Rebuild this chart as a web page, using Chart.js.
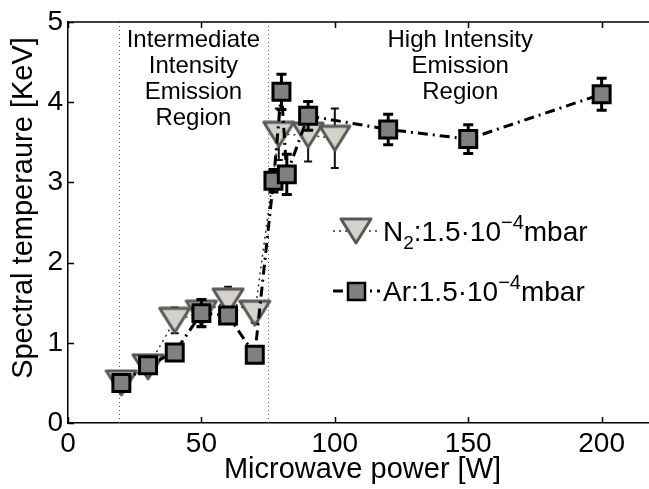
<!DOCTYPE html>
<html>
<head>
<meta charset="utf-8">
<script src="https://cdn.jsdelivr.net/npm/chart.js@4"></script>
<style>
html, body { margin: 0; padding: 0; background: #fff; overflow: hidden; }
</style>
</head>
<body>
<canvas id="power-chart" width="670" height="489"></canvas>
<script>
// N2 runs
var powerN2 = [20, 30, 40, 50, 60, 70, 79, 90, 100]
var tempN2 = [0.5, 0.7, 1.28, 1.37, 1.52, 1.37, 3.6, 3.59, 3.55]
var errN2 = [0.06, 0.06, 0.16, 0.16, 0.18, 0.12, 0.32, 0.33, 0.37]

// Ar runs
var powerAr = [20, 30, 40, 50, 60, 70, 77, 80, 82, 90, 120, 150, 200]
var tempAr = [0.5, 0.72, 0.88, 1.37, 1.34, 0.85, 3.02, 4.13, 3.1, 3.83, 3.66, 3.54, 4.1]
var errAr = [0.04, 0.04, 0.04, 0.17, 0.1, 0.08, 0.14, 0.22, 0.25, 0.18, 0.19, 0.18, 0.2]

var xTicks = [0, 50, 100, 150, 200]
var yTicks = [0, 1, 2, 3, 4, 5]
var regionBounds = [19, 75]
var regionLabels = [
	{ x: 47, lines: ['Intermediate', 'Intensity', 'Emission', 'Region'] },
	{ x: 147, lines: ['High Intensity', 'Emission', 'Region'] }
]

var FONT = "'Liberation Sans', Arial, Helvetica, sans-serif"
Chart.defaults.font.family = FONT
Chart.defaults.color = '#000'

// downward triangle marker, centred on its bounding box
function triangleMarker(w, h) {
	var c = document.createElement('canvas')
	c.width = w + 4
	c.height = h + 4
	var g = c.getContext('2d')
	g.beginPath()
	g.moveTo(2, 2)
	g.lineTo(w + 2, 2)
	g.lineTo(w / 2 + 2, h + 2)
	g.closePath()
	g.fillStyle = '#d5d2cb'
	g.fill()
	g.lineWidth = 3
	g.lineJoin = 'round'
	g.strokeStyle = '#585858'
	g.stroke()
	return c
}
var triangle = triangleMarker(30, 24)

function toPoints(xs, ys) {
	return xs.map(function (x, i) { return { x: x, y: ys[i] } })
}

var errors = [errN2, errAr]
var errStyle = [
	{ color: '#111', width: 2, cap: 4 },
	{ color: '#000', width: 3, cap: 5 }
]

var errorBars = {
	id: 'errorBars',
	beforeDatasetDraw: function (chart, args) {
		var i = args.index
		var ctx = chart.ctx
		var xs = chart.scales.x, ys = chart.scales.y
		var st = errStyle[i]
		var data = chart.data.datasets[i].data
		ctx.save()
		ctx.strokeStyle = st.color
		ctx.lineWidth = st.width
		data.forEach(function (p, k) {
			var px = xs.getPixelForValue(p.x)
			var top = ys.getPixelForValue(p.y + errors[i][k])
			var bot = ys.getPixelForValue(p.y - errors[i][k])
			ctx.beginPath()
			ctx.moveTo(px, top)
			ctx.lineTo(px, bot)
			ctx.moveTo(px - st.cap, top)
			ctx.lineTo(px + st.cap, top)
			ctx.moveTo(px - st.cap, bot)
			ctx.lineTo(px + st.cap, bot)
			ctx.stroke()
		})
		ctx.restore()
	}
}

function richText(ctx, x, y, parts) {
	parts.forEach(function (p) {
		ctx.font = p.size + 'px ' + FONT
		ctx.fillText(p.t, x, y + (p.dy || 0))
		x += ctx.measureText(p.t).width
	})
}

var decorations = {
	id: 'decorations',
	beforeDatasetsDraw: function (chart) {
		var ctx = chart.ctx
		var a = chart.chartArea
		var xs = chart.scales.x
		ctx.save()
		// region boundaries
		ctx.strokeStyle = '#555'
		ctx.lineWidth = 1
		ctx.setLineDash([1, 3])
		regionBounds.forEach(function (v) {
			var px = Math.round(xs.getPixelForValue(v)) + 0.5
			ctx.beginPath()
			ctx.moveTo(px, a.bottom)
			ctx.lineTo(px, a.top)
			ctx.stroke()
		})
		ctx.setLineDash([])
		// region captions
		ctx.fillStyle = '#000'
		ctx.font = '24px ' + FONT
		ctx.textAlign = 'center'
		ctx.textBaseline = 'alphabetic'
		regionLabels.forEach(function (r) {
			var px = xs.getPixelForValue(r.x)
			r.lines.forEach(function (l, k) {
				ctx.fillText(l, px, a.top + 25 + k * 26)
			})
		})
		ctx.restore()
	},
	afterDraw: function (chart) {
		var ctx = chart.ctx
		var a = chart.chartArea
		var xs = chart.scales.x, ys = chart.scales.y
		ctx.save()
		ctx.strokeStyle = '#000'
		ctx.lineWidth = 1.5
		ctx.beginPath()
		ctx.moveTo(a.left, a.top)
		ctx.lineTo(a.right, a.top)
		ctx.lineTo(a.right, a.bottom)
		xTicks.forEach(function (v) {
			var px = Math.round(xs.getPixelForValue(v)) + 0.5
			ctx.moveTo(px, a.bottom)
			ctx.lineTo(px, a.bottom - 6)
			ctx.moveTo(px, a.top)
			ctx.lineTo(px, a.top + 6)
		})
		yTicks.forEach(function (v) {
			var py = Math.round(ys.getPixelForValue(v)) + 0.5
			ctx.moveTo(a.left, py)
			ctx.lineTo(a.left + 6, py)
			ctx.moveTo(a.right, py)
			ctx.lineTo(a.right - 6, py)
		})
		ctx.stroke()

		// axis titles
		ctx.fillStyle = '#000'
		ctx.font = '29px ' + FONT
		ctx.textAlign = 'center'
		ctx.textBaseline = 'middle'
		ctx.fillText('Microwave power [W]', (a.left + a.right) / 2 + 1, 470)
		ctx.save()
		ctx.translate(24, 208)
		ctx.rotate(-Math.PI / 2)
		ctx.fillText('Spectral temperaure [KeV]', 0, 0)
		ctx.restore()

		// legend
		ctx.textAlign = 'left'
		ctx.textBaseline = 'alphabetic'
		var rows = [
			{ y: 231, ds: 0, name: [{ t: 'N', size: 28 }, { t: '2', size: 19, dy: 8 }] },
			{ y: 291, ds: 1, name: [{ t: 'Ar', size: 28 }] }
		]
		rows.forEach(function (r) {
			var d = chart.data.datasets[r.ds]
			ctx.strokeStyle = d.borderColor
			ctx.lineWidth = d.borderWidth
			ctx.setLineDash(d.borderDash)
			ctx.beginPath()
			ctx.moveTo(333, r.y)
			ctx.lineTo(380, r.y)
			ctx.stroke()
			ctx.setLineDash([])
			if (r.ds === 0) {
				ctx.drawImage(triangle, 356 - triangle.width / 2, r.y - triangle.height / 2)
			} else {
				ctx.fillStyle = '#808080'
				ctx.fillRect(348, r.y - 8, 17, 17)
				ctx.lineWidth = 2.5
				ctx.strokeStyle = '#000'
				ctx.strokeRect(348, r.y - 8, 17, 17)
			}
			ctx.fillStyle = '#000'
			richText(ctx, 383, r.y + 10, r.name.concat([
				{ t: ':1.5\u00b710', size: 28 },
				{ t: '\u22124', size: 20, dy: -12 },
				{ t: 'mbar', size: 28 }
			]))
		})
		ctx.restore()
	}
}

var ctx = document.getElementById('power-chart').getContext('2d')
var chart = new Chart(ctx, {
	type: 'scatter',
	data: {
		datasets: [{
			label: 'N2',
			data: toPoints(powerN2, tempN2),
			showLine: true,
			borderColor: '#333',
			borderWidth: 1.5,
			borderDash: [2, 4],
			pointStyle: triangle,
			order: 1
		}, {
			label: 'Ar',
			data: toPoints(powerAr, tempAr),
			showLine: true,
			borderColor: '#000',
			borderWidth: 3,
			borderDash: [10, 5, 2, 5],
			pointStyle: 'rect',
			pointRadius: 12,
			pointBackgroundColor: '#808080',
			pointBorderColor: '#000',
			pointBorderWidth: 3,
			order: 0
		}]
	},
	options: {
		responsive: false,
		animation: false,
		devicePixelRatio: 1,
		layout: { padding: { top: 22, right: 0, left: 0, bottom: 0 } },
		plugins: { legend: { display: false }, tooltip: { enabled: false } },
		scales: {
			x: {
				type: 'linear',
				min: 0,
				max: 220,
				afterFit: function (s) {
					s.height = 66
					s.paddingLeft = 0
					s.paddingRight = 0
				},
				afterBuildTicks: function (s) { s.ticks = xTicks.map(function (v) { return { value: v } }) },
				ticks: { font: { size: 28 }, padding: 4, maxRotation: 0 },
				grid: { display: false, drawTicks: false },
				border: { display: true, color: '#000', width: 1.5 }
			},
			y: {
				min: 0,
				max: 5,
				afterFit: function (s) {
					s.width = 68
					s.paddingTop = 0
					s.paddingBottom = 0
				},
				afterBuildTicks: function (s) { s.ticks = yTicks.map(function (v) { return { value: v } }) },
				ticks: { font: { size: 28 }, padding: 5 },
				grid: { display: false, drawTicks: false },
				border: { display: true, color: '#000', width: 1.5 }
			}
		}
	},
	plugins: [errorBars, decorations]
})
</script>
</body>
</html>
